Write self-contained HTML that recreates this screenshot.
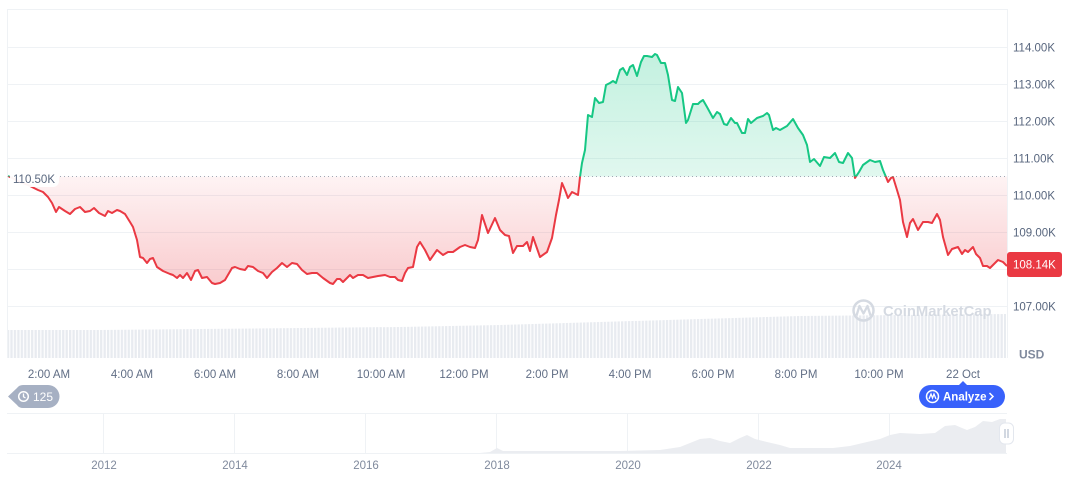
<!DOCTYPE html>
<html><head><meta charset="utf-8"><style>
html,body{margin:0;padding:0;background:#fff;width:1072px;height:477px;overflow:hidden}
svg{display:block;font-family:"Liberation Sans",sans-serif}
</style></head><body>
<svg width="1072" height="477" viewBox="0 0 1072 477" xmlns="http://www.w3.org/2000/svg">
<defs>
<pattern id="vb" width="3.45" height="10" patternUnits="userSpaceOnUse">
<rect x="0" y="0" width="2.3" height="10" fill="#e8ebf0"/>
</pattern>
<linearGradient id="gg" x1="0" y1="50" x2="0" y2="177" gradientUnits="userSpaceOnUse">
<stop offset="0" stop-color="#16c784" stop-opacity="0.26"/>
<stop offset="1" stop-color="#16c784" stop-opacity="0.13"/>
</linearGradient>
<linearGradient id="rg" x1="0" y1="177" x2="0" y2="285" gradientUnits="userSpaceOnUse">
<stop offset="0" stop-color="#ea3943" stop-opacity="0.06"/>
<stop offset="1" stop-color="#ea3943" stop-opacity="0.26"/>
</linearGradient>
<clipPath id="up"><rect x="0" y="0" width="1007" height="176.5"/></clipPath>
<clipPath id="dn"><rect x="0" y="176.5" width="1007" height="200"/></clipPath>
<polygon id="ar" points="8,176.5 8,176 14,179 20,182 28,185 38,190 43,192 48,197 52,203 56,212 59,207 65,211 70,214 75,209 80,207 85,212 90,211 94,208 99,213 105,216 108,211 112,213 117,210 120,211 125,214 130,222 133,227 137,240 140,257 143,258 147,263 150,259 153,258 157,267 163,271 170,274 173,275 177,278 180,275 183,278 187,273 191,280 195,271 198,270 202,278 207,277 212,283 215,284 220,283 225,280 232,268 235,267 240,269 245,270 248,266 253,267 258,271 263,273 267,278 272,272 277,268 282,263 287,267 292,263 297,264 302,270 307,274 312,273 317,273 323,278 330,283 333,284 337,279 340,279 343,282 350,275 353,278 358,275 363,275 368,278 373,277 378,276 385,275 390,277 395,277 398,280 402,281 405,273 408,268 413,267 417,247 420,242 425,250 430,260 437,250 443,255 448,252 453,252 460,247 465,245 470,247 475,248 478,240 482,215 488,233 495,218 500,230 505,235 509,236 513,253 517,246 523,246 527,242 530,251 533,237 540,257 547,252 552,238 556,215 559,200 562,183 565,190 568,198 572,192 578,195 580,177 582,163 585,150 588,115 592,117 595,98 599,103 603,102 606,85 610,83 613,81 616,83 620,70 623,68 627,75 630,67 633,65 637,76 641,62 644,56 647,56 652,57 655,54 657,55 661,63 665,63 668,75 672,100 675,101 678,87 682,93 686,123 688,120 693,104 698,104 700,102 703,100 707,107 713,118 717,112 720,114 724,124 727,125 731,118 735,123 737,123 742,133 745,133 748,119 751,123 757,118 763,116 767,113 769,115 773,130 776,128 780,130 787,126 793,119 798,128 803,135 807,145 810,162 814,159 820,166 824,157 830,158 835,153 839,162 843,163 848,153 852,158 855,178 859,172 863,165 870,160 875,162 880,161 883,170 886,177 888,182 891,178 893,177 897,190 900,200 903,222 907,237 910,223 913,219 918,230 923,222 928,222 932,223 937,214 940,220 943,237 948,255 952,249 958,247 962,254 965,250 968,252 973,247 976,254 980,258 983,266 987,266 990,268 994,264 998,260 1003,262 1007,266 1007,176.5"/>
<polyline id="ln" fill="none" stroke-width="2" stroke-linejoin="round" points="8,176 14,179 20,182 28,185 38,190 43,192 48,197 52,203 56,212 59,207 65,211 70,214 75,209 80,207 85,212 90,211 94,208 99,213 105,216 108,211 112,213 117,210 120,211 125,214 130,222 133,227 137,240 140,257 143,258 147,263 150,259 153,258 157,267 163,271 170,274 173,275 177,278 180,275 183,278 187,273 191,280 195,271 198,270 202,278 207,277 212,283 215,284 220,283 225,280 232,268 235,267 240,269 245,270 248,266 253,267 258,271 263,273 267,278 272,272 277,268 282,263 287,267 292,263 297,264 302,270 307,274 312,273 317,273 323,278 330,283 333,284 337,279 340,279 343,282 350,275 353,278 358,275 363,275 368,278 373,277 378,276 385,275 390,277 395,277 398,280 402,281 405,273 408,268 413,267 417,247 420,242 425,250 430,260 437,250 443,255 448,252 453,252 460,247 465,245 470,247 475,248 478,240 482,215 488,233 495,218 500,230 505,235 509,236 513,253 517,246 523,246 527,242 530,251 533,237 540,257 547,252 552,238 556,215 559,200 562,183 565,190 568,198 572,192 578,195 580,177 582,163 585,150 588,115 592,117 595,98 599,103 603,102 606,85 610,83 613,81 616,83 620,70 623,68 627,75 630,67 633,65 637,76 641,62 644,56 647,56 652,57 655,54 657,55 661,63 665,63 668,75 672,100 675,101 678,87 682,93 686,123 688,120 693,104 698,104 700,102 703,100 707,107 713,118 717,112 720,114 724,124 727,125 731,118 735,123 737,123 742,133 745,133 748,119 751,123 757,118 763,116 767,113 769,115 773,130 776,128 780,130 787,126 793,119 798,128 803,135 807,145 810,162 814,159 820,166 824,157 830,158 835,153 839,162 843,163 848,153 852,158 855,178 859,172 863,165 870,160 875,162 880,161 883,170 886,177 888,182 891,178 893,177 897,190 900,200 903,222 907,237 910,223 913,219 918,230 923,222 928,222 932,223 937,214 940,220 943,237 948,255 952,249 958,247 962,254 965,250 968,252 973,247 976,254 980,258 983,266 987,266 990,268 994,264 998,260 1003,262 1007,266"/>
</defs>

<!-- grid -->
<g stroke="#eff2f5" stroke-width="1">
<line x1="7" y1="9.5" x2="1007" y2="9.5"/>
<line x1="7.5" y1="9" x2="7.5" y2="358"/>
<line x1="1007.5" y1="9" x2="1007.5" y2="358"/>
<line x1="7" y1="47.5" x2="1007" y2="47.5"/>
<line x1="7" y1="84.5" x2="1007" y2="84.5"/>
<line x1="7" y1="121.5" x2="1007" y2="121.5"/>
<line x1="7" y1="158.5" x2="1007" y2="158.5"/>
<line x1="7" y1="195.5" x2="1007" y2="195.5"/>
<line x1="7" y1="232.5" x2="1007" y2="232.5"/>
<line x1="7" y1="269.5" x2="1007" y2="269.5"/>
<line x1="7" y1="306.5" x2="1007" y2="306.5"/>
</g>

<!-- volume -->
<polygon fill="url(#vb)" points="8,358 8,330 100,330 200,329 300,328 400,327 500,325 600,322 700,319 800,316 900,315 1006,314 1006,358"/>

<!-- watermark -->
<g>
<circle cx="863.5" cy="310.5" r="10" fill="none" stroke="#d5dae2" stroke-width="2.5"/>
<polyline points="856.5,315.5 859.5,306 863.5,313.5 867.5,306 870.5,315.5" fill="none" stroke="#d5dae2" stroke-width="2.3" stroke-linejoin="round"/>
<text x="883" y="316" font-size="14.8" font-weight="bold" fill="#d5dae2">CoinMarketCap</text>
</g>

<!-- areas -->
<use href="#ar" fill="url(#gg)" clip-path="url(#up)"/>
<use href="#ar" fill="url(#rg)" clip-path="url(#dn)"/>

<!-- baseline -->
<line x1="8" y1="176.5" x2="1007" y2="176.5" stroke="#a0a8b4" stroke-width="1" stroke-dasharray="1,3"/>

<!-- lines -->
<use href="#ln" stroke="#16c784" clip-path="url(#up)"/>
<use href="#ln" stroke="#ea3943" clip-path="url(#dn)"/>

<!-- baseline label -->
<rect x="10" y="170" width="49" height="17" rx="6" fill="#fff" opacity="0.95"/>
<text x="13" y="183" font-size="11.5" fill="#58667e">110.50K</text>

<!-- y labels -->
<g font-size="11.5" fill="#58667e">
<text x="1013" y="51.5">114.00K</text>
<text x="1013" y="88.5">113.00K</text>
<text x="1013" y="125.5">112.00K</text>
<text x="1013" y="162.5">111.00K</text>
<text x="1013" y="199.5">110.00K</text>
<text x="1013" y="236.5">109.00K</text>
<text x="1013" y="310.5">107.00K</text>
</g>
<rect x="1007" y="252" width="55" height="25" rx="3" fill="#ea3943"/>
<text x="1013" y="268.5" font-size="11.5" fill="#fff">108.14K</text>
<text x="1019" y="358.5" font-size="12" font-weight="bold" fill="#808a9d">USD</text>

<!-- x labels -->
<g font-size="11.5" fill="#616e85" text-anchor="middle">
<text x="49" y="378">2:00 AM</text>
<text x="132" y="378">4:00 AM</text>
<text x="215" y="378">6:00 AM</text>
<text x="298" y="378">8:00 AM</text>
<text x="381" y="378">10:00 AM</text>
<text x="464" y="378">12:00 PM</text>
<text x="547" y="378">2:00 PM</text>
<text x="630" y="378">4:00 PM</text>
<text x="713" y="378">6:00 PM</text>
<text x="796" y="378">8:00 PM</text>
<text x="879" y="378">10:00 PM</text>
<text x="963" y="378">22 Oct</text>
</g>

<!-- 125 badge -->
<path d="M8,396.5 L17,388 Q19,385 23,385 L48,385 A11.5,11.5 0 0 1 48,408 L23,408 Q19,408 17,405 Z" fill="#a6b0c3"/>
<circle cx="23.5" cy="396.5" r="4.8" fill="none" stroke="#fff" stroke-width="1.5"/>
<polyline points="23.5,393.5 23.5,396.8 25.5,398" fill="none" stroke="#fff" stroke-width="1.3"/>
<text x="33" y="401" font-size="12" fill="#fff">125</text>

<!-- analyze button -->
<path d="M959,385 L963,381 L967,385 Z" fill="#3861fb"/>
<rect x="919" y="385" width="86" height="23" rx="11.5" fill="#3861fb"/>
<circle cx="932.5" cy="396.5" r="6" fill="none" stroke="#fff" stroke-width="1.5"/>
<polyline points="929,399 931,394 932.5,398 934,394 936,399" fill="none" stroke="#fff" stroke-width="1.3"/>
<text x="943" y="400.5" font-size="11.5" font-weight="bold" fill="#fff">Analyze</text>
<polyline points="989.5,393 993,396.5 989.5,400" fill="none" stroke="#fff" stroke-width="1.5"/>

<!-- navigator -->
<g stroke="#eff2f5" stroke-width="1">
<line x1="7" y1="413.5" x2="1007" y2="413.5"/>
<line x1="7" y1="453.5" x2="1007" y2="453.5"/>
<line x1="103.5" y1="413" x2="103.5" y2="453"/>
<line x1="234.5" y1="413" x2="234.5" y2="453"/>
<line x1="365.5" y1="413" x2="365.5" y2="453"/>
<line x1="496.5" y1="413" x2="496.5" y2="453"/>
<line x1="627.5" y1="413" x2="627.5" y2="453"/>
<line x1="758.5" y1="413" x2="758.5" y2="453"/>
<line x1="889.5" y1="413" x2="889.5" y2="453"/>
</g>
<polygon fill="#ebedf1" points="7,453 480,453 490,452 497,448 503,451 520,451 560,451 620,451 660,450 680,447 690,443 700,439 710,438 720,441 730,443 740,438 747,435 755,439 767,442 780,445 790,448 810,448 833,448 850,446 867,442 880,439 890,435 900,433 920,434 935,433 945,426 955,425 962,428 967,430 975,427 983,421 992,422 1000,419 1006,419 1006,453"/>
<g font-size="11.5" fill="#808a9d" text-anchor="middle">
<text x="104" y="469">2012</text>
<text x="235" y="469">2014</text>
<text x="366" y="469">2016</text>
<text x="497" y="469">2018</text>
<text x="628" y="469">2020</text>
<text x="759" y="469">2022</text>
<text x="889" y="469">2024</text>
</g>
<rect x="999.5" y="423" width="14" height="21" rx="5" fill="#fff" stroke="#e3e7ee" stroke-width="1"/>
<line x1="1005" y1="429" x2="1005" y2="438" stroke="#a6b0c3" stroke-width="1"/>
<line x1="1008" y1="429" x2="1008" y2="438" stroke="#a6b0c3" stroke-width="1"/>
</svg>
</body></html>
